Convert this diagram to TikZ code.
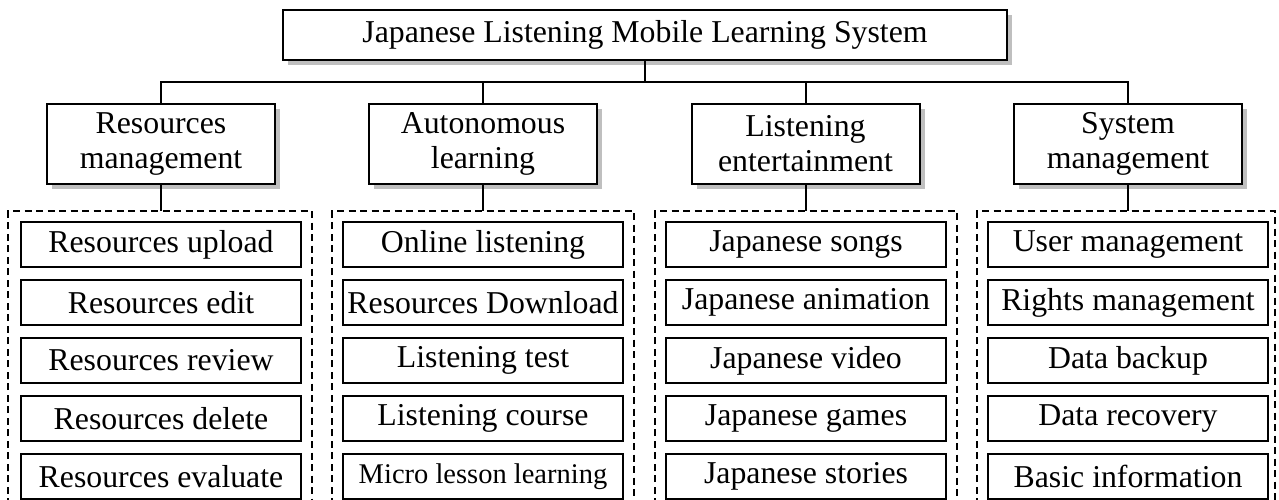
\documentclass[tikz,border=0pt]{standalone}
\usepackage{fontspec}
\setmainfont{Liberation Serif}
\usetikzlibrary{positioning,shadows}

\begin{document}
\begin{tikzpicture}[x=1pt, y=-1pt, node distance=11pt, line width=2pt,
  every node/.style = {shape=rectangle, draw, fill=white, align=center, inner sep=0pt,
    font=\fontsize{31.8}{35}\selectfont},
  shade/.style = {drop shadow={shadow xshift=5pt, shadow yshift=-5pt, fill=black!25, opacity=1}},
  root/.style = {shade, minimum width=724pt, minimum height=50pt},
  branch/.style = {shade, minimum width=228pt, minimum height=80pt},
  leaf/.style = {minimum width=280pt, minimum height=45pt},
  groupbox/.style = {line width=1.5pt, dash pattern=on 7pt off 4.5pt}]
  \useasboundingbox (0,0) rectangle (1279,499);
  \clip (0,0) rectangle (1279,499);

  \node[root] (sys) at (645,35) {Japanese Listening Mobile Learning System};

  \node[branch] (res)  at (161,144)   {Resources\\management};
  \node[branch] (auto) at (483,144)   {Autonomous\\learning};
  \node[branch] (ent)  at (805.5,144) {Listening\\entertainment};
  \node[branch] (mgmt) at (1128,144)  {System\\management};

  % dashed groups
  \draw[groupbox] (8,505)   |- (312,211)  -- (312,505);
  \draw[groupbox] (332,505) |- (634,211)  -- (634,505);
  \draw[groupbox] (655,505) |- (957,211)  -- (957,505);
  \draw[groupbox] (977,505) |- (1275,211) -- (1275,505);
  \coordinate (resgrp)  at (161,211);
  \coordinate (autogrp) at (483,211);
  \coordinate (entgrp)  at (805.5,211);
  \coordinate (mgmtgrp) at (1128,211);

  \node[leaf] (res1) at (161,244.5) {Resources upload};
  \node[leaf, below=of res1] (res2) {Resources edit};
  \node[leaf, below=of res2] (res3) {Resources review};
  \node[leaf, below=of res3] (res4) {Resources delete};
  \node[leaf, below=of res4] (res5) {Resources evaluate};

  \node[leaf] (auto1) at (483,244.5) {Online listening};
  \node[leaf, below=of auto1] (auto2) {Resources Download};
  \node[leaf, below=of auto2] (auto3) {Listening test};
  \node[leaf, below=of auto3] (auto4) {Listening course};
  \node[leaf, below=of auto4] (auto5) {\fontsize{28.5}{30}\selectfont Micro lesson learning};

  \node[leaf] (ent1) at (806,244.5) {Japanese songs};
  \node[leaf, below=of ent1] (ent2) {Japanese animation};
  \node[leaf, below=of ent2] (ent3) {Japanese video};
  \node[leaf, below=of ent3] (ent4) {Japanese games};
  \node[leaf, below=of ent4] (ent5) {Japanese stories};

  \node[leaf] (mgmt1) at (1128,244.5) {User management};
  \node[leaf, below=of mgmt1] (mgmt2) {Rights management};
  \node[leaf, below=of mgmt2] (mgmt3) {Data backup};
  \node[leaf, below=of mgmt3] (mgmt4) {Data recovery};
  \node[leaf, below=of mgmt4] (mgmt5) {Basic information};

  % connectors
  \coordinate (bus) at (645,82);
  \draw (sys.south) -- (bus);
  \draw (res.north) |- (bus) -| (mgmt.north);
  \draw (auto.north) -- (auto.north |- bus);
  \draw (ent.north) -- (ent.north |- bus);
  \draw (res) -- (resgrp);
  \draw (auto) -- (autogrp);
  \draw (ent) -- (entgrp);
  \draw (mgmt) -- (mgmtgrp);
\end{tikzpicture}
\end{document}
